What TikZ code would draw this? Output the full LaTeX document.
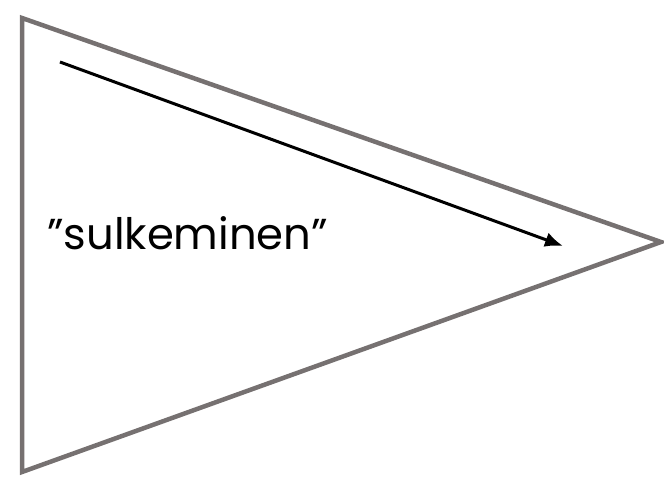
\documentclass[tikz,border=0pt]{standalone}
\usepackage{fontspec}
\setmainfont{Poppins}
\usetikzlibrary{arrows.meta}
\definecolor{tri}{HTML}{767171}
\begin{document}
\begin{tikzpicture}[x=1bp,y=-1bp,
  tribox/.style={draw=tri,line width=4.5bp,line join=miter},
  arr/.style={draw=black,line width=3bp,-{Latex[length=18bp,width=15bp]}},
  lbl/.style={anchor=base west,inner sep=0pt,font=\fontsize{43.5}{48}\selectfont}]
\useasboundingbox (0,0) rectangle (664,478);
\coordinate (A) at (22,18);
\coordinate (B) at (22,472);
\coordinate (C) at (661,242);
\draw[tribox] (A) -- (C) -- (B) -- cycle;
\coordinate (s) at (60,62);
\coordinate (e) at (563,246);
\draw[arr] (s) -- (e);
\node[lbl] (t) at (47,250) {”sulkeminen”};
\end{tikzpicture}
\end{document}
